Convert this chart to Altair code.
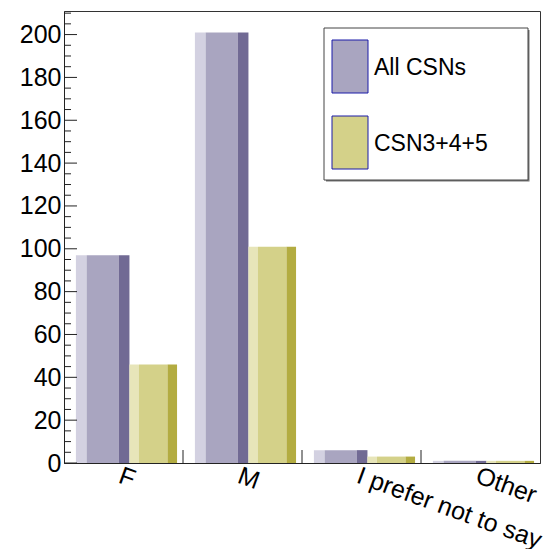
import json
import altair as alt
import pandas as pd

# ---- data ----------------------------------------------------------------
categories = ["F", "M", "I prefer not to say", "Other"]
series_names = ["All CSNs", "CSN3+4+5"]
all_csns = [97, 201, 6, 1]
csn_345 = [46, 101, 3, 1]
y_major_ticks = list(range(0, 201, 20))
y_minor_ticks = [v for v in range(0, 211, 5) if v % 20 != 0]

# ---- style ---------------------------------------------------------------
FONT = "Liberation Sans"
AXIS_FS = 25
LEGEND_FS = 23
W, H = 476, 452
Y_MAX = 211
# (light edge, face, dark edge) per series
shades = {
    "All CSNs": ["#d3d1e1", "#a9a5c0", "#716a94"],
    "CSN3+4+5": ["#e7e5b9", "#d4d189", "#b3ac41"],
}
# slot of each series inside a category (fraction of category width)
slots = {"All CSNs": (0.10, 0.55), "CSN3+4+5": (0.55, 0.95)}
edge_frac = 0.2

rows = []
for name, values in zip(series_names, [all_csns, csn_345]):
    lo, hi = slots[name]
    w = hi - lo
    cuts = [lo, lo + edge_frac * w, hi - edge_frac * w, hi]
    for i, (cat, v) in enumerate(zip(categories, values)):
        for k in range(3):
            rows.append({
                "category": cat, "series": name, "value": v,
                "x0": i + cuts[k], "x1": i + cuts[k + 1],
                "seg": f"{name}-{k}", "color": shades[name][k],
            })
bars_df = pd.DataFrame(rows)

x_scale = alt.Scale(domain=[0, len(categories)], nice=False, zero=False)
y_scale = alt.Scale(domain=[0, Y_MAX], nice=False)

label_expr = f"{json.dumps(categories)}[floor(datum.value)]"

bars = alt.Chart(bars_df).mark_rect().encode(
    x=alt.X("x0:Q", scale=x_scale, axis=alt.Axis(
        values=[i + 0.5 for i in range(len(categories))],
        labelExpr=label_expr, labelAngle=20, labelAlign="left",
        labelBaseline="top", ticks=False, grid=False, title=None,
        labelFont=FONT, labelFontSize=AXIS_FS, labelColor="black",
        labelPadding=0, domainColor="#222", labelOverlap=False,
        labelFlush=False, labelBound=False, labelLimit=1000)),
    x2="x1:Q",
    y=alt.Y("value:Q", scale=y_scale, axis=alt.Axis(
        values=y_major_ticks, ticks=False, grid=False, title=None,
        labelFont=FONT, labelFontSize=AXIS_FS, labelColor="black",
        labelPadding=3, domainColor="#222")),
    y2=alt.datum(0),
    color=alt.Color("color:N", scale=None),
)

# inward ticks on the y axis
major_df = pd.DataFrame({"v": y_major_ticks})
minor_df = pd.DataFrame({"v": y_minor_ticks})
major_ticks = alt.Chart(major_df).mark_rule(color="#222", strokeWidth=1).encode(
    y=alt.Y("v:Q", scale=y_scale), x=alt.value(0), x2=alt.value(13))
minor_ticks = alt.Chart(minor_df).mark_rule(color="#222", strokeWidth=1).encode(
    y=alt.Y("v:Q", scale=y_scale), x=alt.value(0), x2=alt.value(7))

# category boundary ticks on the x axis
bound_df = pd.DataFrame({"b": list(range(1, len(categories)))})
x_ticks = alt.Chart(bound_df).mark_rule(color="#222", strokeWidth=1).encode(
    x=alt.X("b:Q", scale=x_scale), y=alt.value(H), y2=alt.value(H - 13))

# legend box
one = pd.DataFrame({"a": [0]})
LX0, LX1, LY0, LY1 = 260, 464, 17, 169
legend_shadow = alt.Chart(one).mark_rect(fill="#777").encode(
    x=alt.value(LX0 + 2), x2=alt.value(LX1 + 1.5),
    y=alt.value(LY0 + 2), y2=alt.value(LY1 + 1.5))
legend_box = alt.Chart(one).mark_rect(fill="white", stroke="#444", strokeWidth=1).encode(
    x=alt.value(LX0), x2=alt.value(LX1), y=alt.value(LY0), y2=alt.value(LY1))

legend_layers = [legend_shadow, legend_box]
entry_tops = [29, 105]
for name, top in zip(series_names, entry_tops):
    legend_layers.append(
        alt.Chart(one).mark_rect(fill=shades[name][1], stroke="#1a1aa8", strokeWidth=1).encode(
            x=alt.value(268), x2=alt.value(304), y=alt.value(top), y2=alt.value(top + 53)))
    legend_layers.append(
        alt.Chart(one).mark_text(text=name, font=FONT, fontSize=LEGEND_FS, align="left",
                                 baseline="middle", color="black").encode(
            x=alt.value(310), y=alt.value(top + 28)))

chart = alt.layer(bars, major_ticks, minor_ticks, x_ticks, *legend_layers).properties(
    width=W, height=H,
    autosize=alt.AutoSizeParams(type="none"),
    padding={"left": 64, "top": 11, "right": 16, "bottom": 86},
    background="white",
).configure_view(stroke="#333", strokeWidth=1)

chart.save("out.html", embed_options={"renderer": "svg", "actions": False})
